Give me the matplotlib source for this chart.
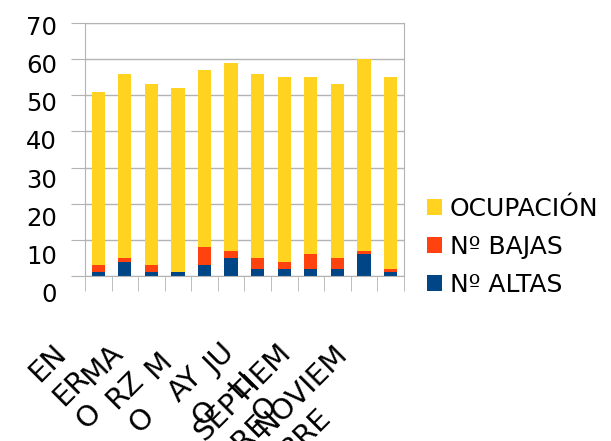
import matplotlib
matplotlib.use('Agg')
import matplotlib.pyplot as plt
import matplotlib.transforms as mtransforms
import numpy as np

# Datos mensuales
meses = ['ENERO', 'FEBRERO', 'MARZO', 'ABRIL', 'MAYO', 'JUNIO', 'JULIO',
         'AGOSTO', 'SEPTIEMBRE', 'OCTUBRE', 'NOVIEMBRE', 'DICIEMBRE']
# etiquetas partidas en lineas; las de meses pares quedan ocultas
etiquetas = ['EN\nER\nO', '', 'MA\nRZ\nO', '', 'M\nAY\nO', '', 'JU\nLI\nO', '',
             'SEPTIEM\nBRE', '', 'NOVIEM\nBRE', '']
altas = [1, 4, 1, 1, 3, 5, 2, 2, 2, 2, 6, 1]
bajas = [2, 1, 2, 0, 5, 2, 3, 2, 4, 3, 1, 1]
ocupacion = [48, 51, 50, 51, 49, 52, 51, 51, 49, 48, 53, 53]

plt.rcParams['font.family'] = ['DejaVu Sans']

fig = plt.figure(figsize=(6.11, 4.41), dpi=100)
ax = fig.add_axes([0.139, 0.374, 0.522, 0.574])

x = np.arange(len(meses))
ancho = 0.5
b1 = ax.bar(x, altas, ancho, color='#004586', label='Nº ALTAS')
b2 = ax.bar(x, bajas, ancho, bottom=altas, color='#ff420e', label='Nº BAJAS')
base = np.add(altas, bajas)
b3 = ax.bar(x, ocupacion, ancho, bottom=base, color='#ffd320', label='OCUPACIÓN')

ax.set_xlim(-0.5, len(meses) - 0.5)
ax.set_ylim(0, 70)
ax.set_yticks(range(0, 71, 10))
ax.yaxis.grid(True, color='#b3b3b3', lw=1)
ax.set_axisbelow(True)
for s in ax.spines.values():
    s.set_color('#b3b3b3')

ax.tick_params(axis='y', length=10, color='#b3b3b3', labelsize=17.5, pad=10)
ax.set_xticks(x)
ax.set_xticklabels(etiquetas, fontsize=21, rotation=45, rotation_mode='anchor',
                   ha='right', va='top', multialignment='left', linespacing=1.25)
ax.set_xticks(np.arange(-0.5, len(meses), 1), minor=True)
ax.tick_params(axis='x', which='major', length=0)
ax.tick_params(axis='x', which='minor', length=11, color='#b3b3b3')

# desplazamiento de las etiquetas del eje x
for i, lbl in enumerate(ax.get_xticklabels()):
    dx = (-46 + 1.5 * i) / 100
    off = mtransforms.ScaledTranslation(dx, -0.58, fig.dpi_scale_trans)
    lbl.set_transform(lbl.get_transform() + off)

# etiquetas del eje y algo mas abajo
for lbl, v in zip(ax.get_yticklabels(), range(0, 71, 10)):
    dy = (3 + (70 - v) / 70 * 13) / 100
    off = mtransforms.ScaledTranslation(0, -dy, fig.dpi_scale_trans)
    lbl.set_transform(lbl.get_transform() + off)

fig.legend(handles=[b3, b2, b1], loc='upper left', bbox_to_anchor=(0.699, 0.553),
           frameon=False, fontsize=18, handlelength=0.6, handleheight=0.6,
           handletextpad=0.3, labelspacing=0.55, borderpad=0, borderaxespad=0)

fig.savefig('out.png', dpi=100)
